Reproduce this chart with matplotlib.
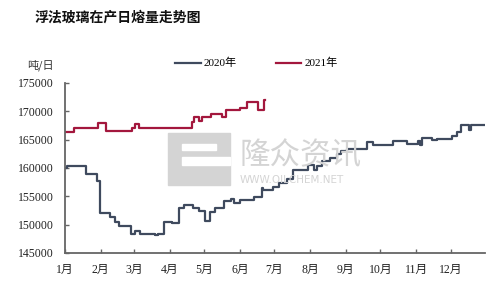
import matplotlib
matplotlib.use("Agg")
import matplotlib.pyplot as plt
from matplotlib.patches import Rectangle

plt.rcParams["font.family"] = ["Liberation Serif", "Noto Sans CJK SC", "DejaVu Sans"]

months = ["1月", "2月", "3月", "4月", "5月", "6月", "7月", "8月", "9月", "10月", "11月", "12月"]
month_start = [0, 31, 60, 91, 121, 152, 182, 213, 244, 274, 305, 335]

# 2020: day of year -> daily melt (t/day), step changes
day_2020 = [0, 1.7, 18, 28, 30, 39, 43, 47, 57, 61, 65, 78, 81, 86, 93, 99, 103, 111,
            116, 122, 126, 130, 138, 144, 147, 152, 164, 171, 172, 181, 186, 193, 198,
            211, 216, 219, 223, 230, 236, 240, 245, 262, 268, 285, 297, 307, 308.5, 310,
            319, 323, 336, 341, 344, 351, 353, 365]
val_2020 = [159900, 160300, 158900, 157700, 152000, 151300, 150400, 149800, 148300,
            148900, 148300, 148100, 148300, 150500, 150300, 152850, 153500, 152900,
            152400, 150700, 152200, 152900, 154100, 154500, 153900, 154300, 154800,
            156500, 156100, 156700, 157400, 158100, 159700, 160600, 159700, 160400,
            161200, 161800, 162400, 163000, 163400, 164500, 164100, 164700, 164200,
            164700, 164000, 165300, 164900, 165100, 165600, 166400, 167600, 166700,
            167600, 167600]

day_2021 = [0, 8, 29, 36, 58, 61, 64, 110, 112, 116, 119, 127, 136, 140, 152, 158,
            168, 170, 172.5, 174]
val_2021 = [166300, 167100, 167900, 166600, 167100, 167800, 167100, 168100, 168900,
            168200, 169000, 169500, 168900, 170200, 170500, 171600, 170200, 170300,
            171900, 171900]

fig = plt.figure(figsize=(4.94, 2.82), dpi=100)
ax = fig.add_axes([0.1316, 0.103, 0.8504, 0.603])

# watermark
wm = "#d4d4d4"
fig.add_artist(Rectangle((168 / 494, 1 - 185 / 282), 62 / 494, 52 / 282,
                         transform=fig.transFigure, color=wm, zorder=0))
fig.add_artist(Rectangle((182 / 494, 1 - 165 / 282), 48 / 494, 8 / 282,
                         transform=fig.transFigure, color="white", zorder=0))
fig.add_artist(Rectangle((182 / 494, 1 - 150 / 282), 34 / 494, 6 / 282,
                         transform=fig.transFigure, color="white", zorder=0))
fig.text(240 / 494, 1 - 156 / 282, "隆众资讯", fontsize=22, color=wm,
         family=["Noto Sans CJK SC"], va="center", ha="left", zorder=0)
fig.text(240 / 494, 1 - 180 / 282, "WWW.OILCHEM.NET", fontsize=7.5, color=wm,
         family=["DejaVu Sans"], va="center", ha="left", zorder=0)

ax.patch.set_alpha(0)
ax.plot(day_2020, val_2020, drawstyle="steps-post", color="#3f4a5e", lw=1.6, label="2020年")
ax.plot(day_2021, val_2021, drawstyle="steps-post", color="#a3173d", lw=1.6, label="2021年")

ax.set_xlim(0, 365)
ax.set_ylim(145000, 175000)
ax.set_yticks(range(145000, 175001, 5000))
ax.set_xticks(month_start)
ax.set_xticklabels(months)
ax.tick_params(axis="both", direction="in", length=3, width=1, color="#666666",
               labelsize=8.5, labelcolor="#222222")
ax.tick_params(axis="x", pad=8)
ax.tick_params(axis="y", pad=8)
for s in ["top", "right"]:
    ax.spines[s].set_visible(False)
for s in ["left", "bottom"]:
    ax.spines[s].set_color("#666666")
    ax.spines[s].set_linewidth(1.3)

fig.text(35 / 494, 1 - 18 / 282, "浮法玻璃在产日熔量走势图", fontsize=10, weight="bold",
         family=["Noto Sans CJK SC"], va="center", ha="left", color="#111111")
fig.text(40 / 494, 1 - 65 / 282, "吨/日", fontsize=8, va="center", ha="center",
         family=["Noto Sans CJK SC"], color="#333333")

leg = ax.legend(loc="lower left", bbox_to_anchor=(110 / 420, 1.085), ncol=2, frameon=False,
                fontsize=8, handlelength=2.3, handletextpad=0.3, columnspacing=3.5,
                borderpad=0, borderaxespad=0)

fig.savefig("out.png", dpi=100)
